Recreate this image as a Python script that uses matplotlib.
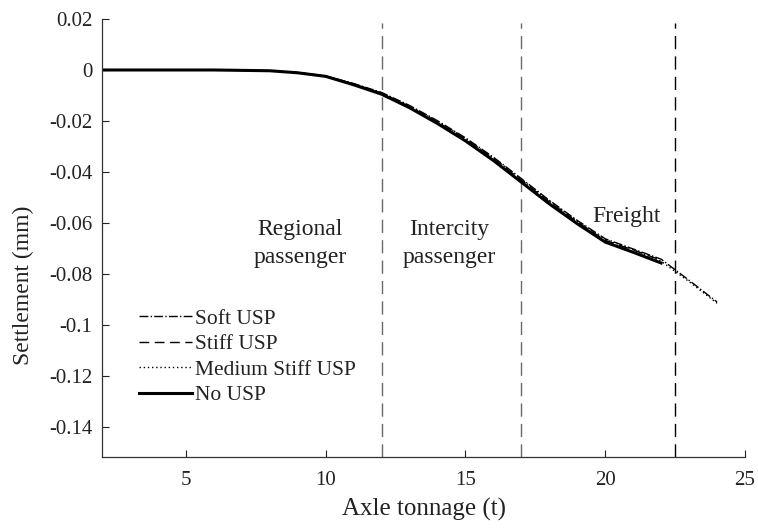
import matplotlib
matplotlib.use("Agg")
import matplotlib.pyplot as plt

plt.rcParams['font.family'] = ['Liberation Serif', 'DejaVu Serif']

# Data
x_no = [2, 4, 6, 8, 9, 10, 11, 12, 13, 14, 15, 16, 17, 18, 19, 20, 21, 22]
y_no = [0, 0, 0, -0.0003, -0.0011, -0.0025, -0.0058, -0.0095, -0.0148, -0.0210,
        -0.0278, -0.0355, -0.0440, -0.0525, -0.0603, -0.0675, -0.0715, -0.0757]

x_soft = [2, 4, 6, 8, 9, 10, 11, 12, 13, 14, 15, 16, 17, 18, 19, 20, 21, 22, 23, 24]
y_soft = [0, 0, 0, -0.0003, -0.0010, -0.0023, -0.0053, -0.0088, -0.0139, -0.0199,
          -0.0266, -0.0342, -0.0426, -0.0511, -0.0590, -0.0662, -0.0702, -0.0742,
          -0.0825, -0.0910]

x_stiff = [2, 4, 6, 8, 9, 10, 11, 12, 13, 14, 15, 16, 17, 18, 19, 20, 21, 22]
y_stiff = [0, 0, 0, -0.0003, -0.0010, -0.0024, -0.0055, -0.0091, -0.0143, -0.0204,
           -0.0271, -0.0347, -0.0432, -0.0517, -0.0596, -0.0668, -0.0706, -0.0746]

x_med = [2, 4, 6, 8, 9, 10, 11, 12, 13, 14, 15, 16, 17, 18, 19, 20, 21, 22, 23, 24]
y_med = [0, 0, 0, -0.0003, -0.0010, -0.0024, -0.0055, -0.0090, -0.0141, -0.0201,
         -0.0269, -0.0345, -0.0429, -0.0514, -0.0593, -0.0665, -0.0705, -0.0750,
         -0.0830, -0.0915]

boundaries = [12, 17, 22.5]
boundary_colors = ['#6a6a6a', '#6a6a6a', '#000000']

region_labels = ['Regional\npassenger', 'Intercity\npassenger', 'Freight']
region_x = [9.08, 14.43, 20.78]
region_y = [-0.0680, -0.0680, -0.0576]

fig = plt.figure(figsize=(7.58, 5.29), dpi=100)
ax = fig.add_axes([102/758, 1 - 457/529, (745-102)/758, (457-19)/529])

for xb, c in zip(boundaries, boundary_colors):
    ax.axvline(xb, color=c, linestyle=(0, (9.5, 5.2)), linewidth=1.0, ymax=0.99)

ax.plot(x_soft, y_soft, color='black', linestyle='-.', linewidth=1.0, label='Soft USP')
ax.plot(x_stiff, y_stiff, color='black', linestyle=(0, (7, 4)), linewidth=1.0, label='Stiff USP')
ax.plot(x_med, y_med, color='black', linestyle=(0, (1, 2)), linewidth=1.0, label='Medium Stiff USP')
ax.plot(x_no, y_no, color='black', linestyle='-', linewidth=2.2, label='No USP')

for t, xx, yy in zip(region_labels, region_x, region_y):
    ax.text(xx, yy, t, ha='center', va='center', fontsize=17, color='#222222',
            linespacing=1.45)

ax.set_xlim(2, 25)
ax.set_ylim(-0.1518, 0.02)
ax.set_xticks([5, 10, 15, 20, 25])
ax.set_yticks([0.02, 0, -0.02, -0.04, -0.06, -0.08, -0.1, -0.12, -0.14])
ax.set_yticklabels(['0.02', '0', '-0.02', '-0.04', '-0.06', '-0.08', '-0.1', '-0.12', '-0.14'])
ax.tick_params(direction='in', length=5, width=0.8, labelsize=15, colors='#222222')
ax.tick_params(axis='x', pad=10)
ax.tick_params(axis='y', pad=7)
for s in ['top', 'right']:
    ax.spines[s].set_visible(False)
for s in ['left', 'bottom']:
    ax.spines[s].set_color('#333333')
    ax.spines[s].set_linewidth(0.9)

ax.set_xlabel('Axle tonnage (t)', fontsize=18, color='#222222', labelpad=6)
ax.set_ylabel('Settlement (mm)', fontsize=17, color='#222222')
ax.yaxis.set_label_coords(-0.106, 0.393)

leg = ax.legend(loc='upper left', bbox_to_anchor=(0.0575, 0.338), frameon=False,
                fontsize=15.5, handlelength=2.45, handletextpad=0.15,
                labelspacing=0.25, borderaxespad=0.0, borderpad=0.0)
for t in leg.get_texts():
    t.set_color('#222222')

fig.savefig('out.png', dpi=100)
